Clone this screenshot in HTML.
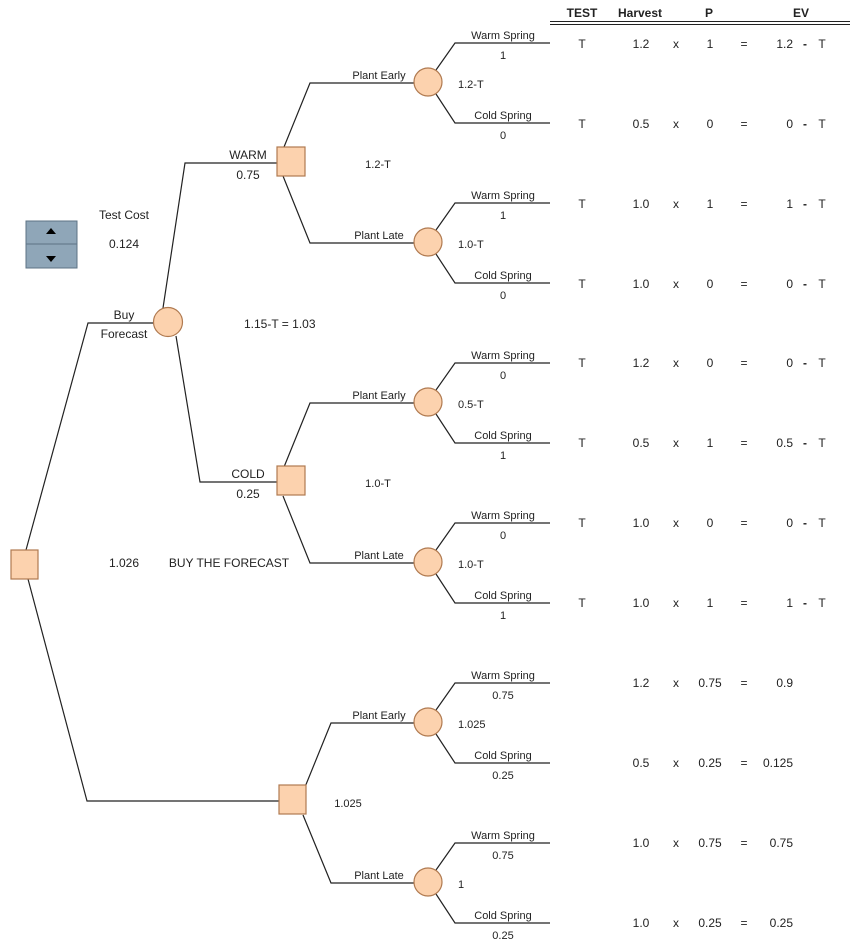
<!DOCTYPE html>
<html><head><meta charset="utf-8"><style>
html,body{margin:0;padding:0;background:#fff;}
svg{display:block;font-family:"Liberation Sans",sans-serif;}
text{fill:#222;}
.s{font-size:11px;}
.m{font-size:12px;}
.b{font-size:12px;font-weight:bold;}
</style></head><body>
<svg width="860" height="942" viewBox="0 0 860 942" xmlns="http://www.w3.org/2000/svg">
<g stroke="#222" stroke-width="1.2" fill="none">
<!-- root -->
<polyline points="26,550 88,323 154,323"/>
<polyline points="28,579 87,801 279,801"/>
<!-- buy forecast -->
<polyline points="163,308 185,163 278,163"/>
<polyline points="176,336 200,482 278,482"/>
<!-- decision subtrees -->
<polyline points="284,147 310,83 414,83"/><polyline points="283,176 310,243 414,243"/>
<polyline points="284,467 310,403 414,403"/><polyline points="283,496 310,563 414,563"/>
<polyline points="305,787 331,723 414,723"/><polyline points="303,815 331,883 414,883"/>
<!-- chance outcomes -->
<polyline points="436,70 455,43 550,43"/><polyline points="436,94 455,123 550,123"/>
<polyline points="436,230 455,203 550,203"/><polyline points="436,254 455,283 550,283"/>
<polyline points="436,390 455,363 550,363"/><polyline points="436,414 455,443 550,443"/>
<polyline points="436,550 455,523 550,523"/><polyline points="436,574 455,603 550,603"/>
<polyline points="436,710 455,683 550,683"/><polyline points="436,734 455,763 550,763"/>
<polyline points="436,870 455,843 550,843"/><polyline points="436,894 455,923 550,923"/>
</g>
<!-- header double line -->
<line x1="550" y1="21.5" x2="850" y2="21.5" stroke="#222" stroke-width="1"/>
<line x1="550" y1="24.5" x2="850" y2="24.5" stroke="#222" stroke-width="1"/>
<g fill="#fcd2ae" stroke="#b07a50" stroke-width="1.2">
<rect x="11" y="550" width="27" height="29"/>
<rect x="277" y="147" width="28" height="29"/>
<rect x="277" y="466" width="28" height="29"/>
<rect x="279" y="785" width="27" height="29"/>
<circle cx="168" cy="322" r="14.5"/>
<circle cx="428" cy="82" r="14"/><circle cx="428" cy="242" r="14"/>
<circle cx="428" cy="402" r="14"/><circle cx="428" cy="562" r="14"/>
<circle cx="428" cy="722" r="14"/><circle cx="428" cy="882" r="14"/>
</g>
<!-- spinner -->
<rect x="26" y="221" width="51" height="23" fill="#8fa6b8" stroke="#5d7385"/>
<rect x="26" y="244" width="51" height="24" fill="#8fa6b8" stroke="#5d7385"/>
<polygon points="51,228 46,234 56,234" fill="#000"/>
<polygon points="51,262 46,256 56,256" fill="#000"/>
<g class="m">
<text x="124" y="219" text-anchor="middle">Test Cost</text>
<text x="124" y="248" text-anchor="middle">0.124</text>
<text x="124" y="319" text-anchor="middle">Buy</text>
<text x="124" y="338" text-anchor="middle">Forecast</text>
<text x="248" y="159" text-anchor="middle">WARM</text>
<text x="248" y="179" text-anchor="middle">0.75</text>
<text x="248" y="478" text-anchor="middle">COLD</text>
<text x="248" y="498" text-anchor="middle">0.25</text>
<text x="244" y="328">1.15-T =  1.03</text>
<text x="124" y="567" text-anchor="middle">1.026</text>
<text x="229" y="567" text-anchor="middle">BUY THE FORECAST</text>
</g>
<g class="s">
<text x="378" y="168" text-anchor="middle">1.2-T</text>
<text x="378" y="487" text-anchor="middle">1.0-T</text>
<text x="348" y="807" text-anchor="middle">1.025</text>
<text x="379" y="79" text-anchor="middle">Plant Early</text>
<text x="379" y="239" text-anchor="middle">Plant Late</text>
<text x="379" y="399" text-anchor="middle">Plant Early</text>
<text x="379" y="559" text-anchor="middle">Plant Late</text>
<text x="379" y="719" text-anchor="middle">Plant Early</text>
<text x="379" y="879" text-anchor="middle">Plant Late</text>
<text x="458" y="88">1.2-T</text>
<text x="458" y="248">1.0-T</text>
<text x="458" y="408">0.5-T</text>
<text x="458" y="568">1.0-T</text>
<text x="458" y="728">1.025</text>
<text x="458" y="888">1</text>
<g text-anchor="middle">
<text x="503" y="39">Warm Spring</text><text x="503" y="59">1</text>
<text x="503" y="119">Cold Spring</text><text x="503" y="139">0</text>
<text x="503" y="199">Warm Spring</text><text x="503" y="219">1</text>
<text x="503" y="279">Cold Spring</text><text x="503" y="299">0</text>
<text x="503" y="359">Warm Spring</text><text x="503" y="379">0</text>
<text x="503" y="439">Cold Spring</text><text x="503" y="459">1</text>
<text x="503" y="519">Warm Spring</text><text x="503" y="539">0</text>
<text x="503" y="599">Cold Spring</text><text x="503" y="619">1</text>
<text x="503" y="679">Warm Spring</text><text x="503" y="699">0.75</text>
<text x="503" y="759">Cold Spring</text><text x="503" y="779">0.25</text>
<text x="503" y="839">Warm Spring</text><text x="503" y="859">0.75</text>
<text x="503" y="919">Cold Spring</text><text x="503" y="939">0.25</text>
</g>
</g>
<g class="b" text-anchor="middle">
<text x="582" y="17">TEST</text><text x="640" y="17">Harvest</text><text x="709" y="17">P</text><text x="801" y="17">EV</text>
</g>
<g class="m" text-anchor="middle">
<g><text x="582" y="48">T</text><text x="641" y="48">1.2</text><text x="676" y="48">x</text><text x="710" y="48">1</text><text x="744" y="48">=</text><text x="793" y="48" text-anchor="end">1.2</text><text x="805" y="48" font-weight="bold">-</text><text x="822" y="48">T</text></g>
<g><text x="582" y="128">T</text><text x="641" y="128">0.5</text><text x="676" y="128">x</text><text x="710" y="128">0</text><text x="744" y="128">=</text><text x="793" y="128" text-anchor="end">0</text><text x="805" y="128" font-weight="bold">-</text><text x="822" y="128">T</text></g>
<g><text x="582" y="208">T</text><text x="641" y="208">1.0</text><text x="676" y="208">x</text><text x="710" y="208">1</text><text x="744" y="208">=</text><text x="793" y="208" text-anchor="end">1</text><text x="805" y="208" font-weight="bold">-</text><text x="822" y="208">T</text></g>
<g><text x="582" y="288">T</text><text x="641" y="288">1.0</text><text x="676" y="288">x</text><text x="710" y="288">0</text><text x="744" y="288">=</text><text x="793" y="288" text-anchor="end">0</text><text x="805" y="288" font-weight="bold">-</text><text x="822" y="288">T</text></g>
<g><text x="582" y="367">T</text><text x="641" y="367">1.2</text><text x="676" y="367">x</text><text x="710" y="367">0</text><text x="744" y="367">=</text><text x="793" y="367" text-anchor="end">0</text><text x="805" y="367" font-weight="bold">-</text><text x="822" y="367">T</text></g>
<g><text x="582" y="447">T</text><text x="641" y="447">0.5</text><text x="676" y="447">x</text><text x="710" y="447">1</text><text x="744" y="447">=</text><text x="793" y="447" text-anchor="end">0.5</text><text x="805" y="447" font-weight="bold">-</text><text x="822" y="447">T</text></g>
<g><text x="582" y="527">T</text><text x="641" y="527">1.0</text><text x="676" y="527">x</text><text x="710" y="527">0</text><text x="744" y="527">=</text><text x="793" y="527" text-anchor="end">0</text><text x="805" y="527" font-weight="bold">-</text><text x="822" y="527">T</text></g>
<g><text x="582" y="607">T</text><text x="641" y="607">1.0</text><text x="676" y="607">x</text><text x="710" y="607">1</text><text x="744" y="607">=</text><text x="793" y="607" text-anchor="end">1</text><text x="805" y="607" font-weight="bold">-</text><text x="822" y="607">T</text></g>
<g><text x="641" y="687">1.2</text><text x="676" y="687">x</text><text x="710" y="687">0.75</text><text x="744" y="687">=</text><text x="793" y="687" text-anchor="end">0.9</text></g>
<g><text x="641" y="767">0.5</text><text x="676" y="767">x</text><text x="710" y="767">0.25</text><text x="744" y="767">=</text><text x="793" y="767" text-anchor="end">0.125</text></g>
<g><text x="641" y="847">1.0</text><text x="676" y="847">x</text><text x="710" y="847">0.75</text><text x="744" y="847">=</text><text x="793" y="847" text-anchor="end">0.75</text></g>
<g><text x="641" y="927">1.0</text><text x="676" y="927">x</text><text x="710" y="927">0.25</text><text x="744" y="927">=</text><text x="793" y="927" text-anchor="end">0.25</text></g>
</g>
</svg>
</body></html>
